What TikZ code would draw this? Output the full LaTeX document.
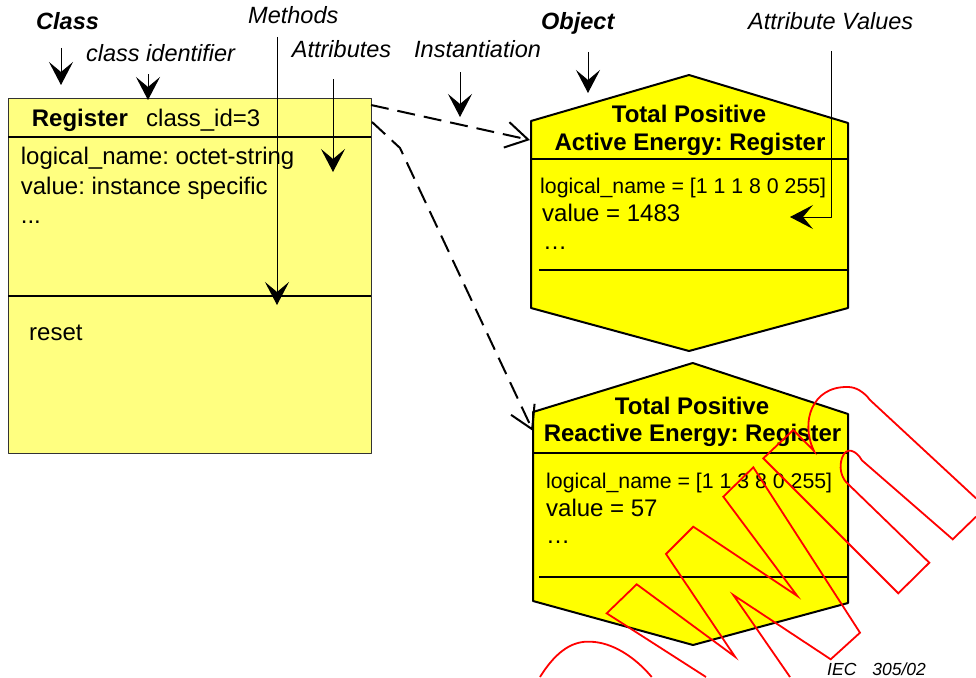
\documentclass[tikz,border=0pt]{standalone}
\usepackage{fontspec}
\setmainfont{Liberation Sans}
\usetikzlibrary{arrows.meta}
\frenchspacing

\definecolor{classyellow}{HTML}{FFFF80}
\definecolor{objyellow}{HTML}{FFFF00}
\definecolor{stampred}{HTML}{FF0000}

\tikzset{
  note/.style={anchor=base west, inner sep=0pt, font=\fontsize{23.5}{28}\selectfont\itshape},
  txt/.style={anchor=base west, inner sep=0pt, font=\fontsize{24}{29}\selectfont},
  obis/.style={anchor=base west, inner sep=0pt, font=\fontsize{21.3}{25}\selectfont},
  head/.style={anchor=base, inner sep=0pt, font=\fontsize{24}{29}\selectfont\bfseries},
  pointer/.style={line width=1pt, -{Stealth[length=23pt,width=24pt,inset=10pt]}},
  inst/.style={line width=2pt, dash pattern=on 18pt off 9pt, -{Straight Barb[length=22pt,width=26pt]}},
  stamp/.style={draw=stampred, line width=1.8pt, line join=miter},
}

\begin{document}
\begin{tikzpicture}[x=1pt,y=-1pt,line join=round]
\useasboundingbox (0,0) rectangle (976,677);

% class box
\draw[fill=classyellow, draw=black!80, line width=1pt] (8,98) rectangle (371,453);
\draw[line width=2.5pt] (8,137) -- (371,137);
\draw[line width=2.5pt] (8,296) -- (371,296);
\node[txt, font=\fontsize{24}{29}\selectfont\bfseries] (clsname) at (31.7,126) {Register};
\node[txt] (clsid) at (146,126) {class\_id=3};
\node[txt] (attr1) at (20.7,164) {logical\_name: octet-string};
\node[txt] (attr2) at (20.7,194) {value: instance specific};
\node[txt] (attr3) at (20.7,223) {...};
\node[txt] (meth1) at (29,340.7) {reset};

% objects
\draw[fill=objyellow, line width=2pt] (531,121) -- (689,75) -- (848,123) -- (848,308) -- (689,351) -- (531,308) -- cycle;
\draw[line width=2.5pt] (531,159) -- (848,159);
\draw[line width=1.5pt] (539,270) -- (848,270);
\node[head] (obj1a) at (689,122) {Total Positive};
\node[head] (obj1b) at (690,150.7) {Active Energy: Register};
\node[obis] (obj1ln) at (540,193.3) {logical\_name = [1 1 1 8 0 255]};
\node[txt] (obj1val) at (542,221.7) {value = 1483};
\node[txt] (obj1dots) at (543,249) {…};

\draw[fill=objyellow, line width=2pt] (533,412) -- (692.7,363) -- (848,414) -- (848,603) -- (693,645) -- (533,601) -- cycle;
\draw[line width=2.5pt] (533,453) -- (848,453);
\draw[line width=1.5pt] (539,577) -- (848,577);
\node[head] (obj2a) at (692,414) {Total Positive};
\node[head] (obj2b) at (692.5,441.7) {Reactive Energy: Register};
\node[obis] (obj2ln) at (546,488.3) {logical\_name = [1 1 3 8 0 255]};
\node[txt] (obj2val) at (546,516.7) {value = 57};
\node[txt] (obj2dots) at (546,543) {…};

% labels
\node[note, font=\fontsize{23.5}{28}\selectfont\bfseries\itshape] (lclass) at (36,30) {Class};
\node[note] (lclsid) at (86,62) {class identifier};
\node[note] (lmeth) at (248,23.5) {Methods};
\node[note] (lattr) at (291.7,58) {Attributes};
\node[note] (linst) at (414,58) {Instantiation};
\node[note, font=\fontsize{23.5}{28}\selectfont\bfseries\itshape] (lobj) at (541,30) {Object};
\node[note] (lval) at (748,30) {Attribute Values};

% pointers
\foreach \n/\x/\ya/\yb in {class/61/48/85, clsid/148/74/100, meth/277/37/305,
                           attr/333/79/172, inst/460/72/117, obj/588/52/93}{
  \coordinate (\n-from) at (\x,\ya);
  \coordinate (\n-to) at (\x,\yb);
  \draw[pointer] (\n-from) -- (\n-to);
}
\coordinate (val-from) at (831,51);
\coordinate (val-to) at (790,217);
\draw[pointer] (val-from) |- (val-to);

% instantiation
\coordinate (cls-a) at (371,105);
\coordinate (obj1-in) at (530,140);
\coordinate (cls-b) at (372,122);
\coordinate (bend) at (400,148);
\coordinate (obj2-in) at (533,431);
\draw[inst] (cls-a) -- (obj1-in);
\draw[inst] (cls-b) -- (bend) -- (obj2-in);

\node[anchor=base west, inner sep=0pt, font=\fontsize{17.5}{20}\selectfont\itshape] (iec) at (827,675) {IEC\hspace{16pt}305/02};

% red stamp outline
\draw[stamp] (976,516.7) -- (952.7,539.3) -- (862,460.4)
  .. controls (856,450) and (846,446) .. (842,458)
  .. controls (839,467) and (841,476) .. (846,482)
  -- (929.3,562.7) -- (898.3,593.3) -- (763.3,458.3) -- (793.3,430) -- (814,451)
  .. controls (800,422) and (812,386) .. (848,387)
  .. controls (856,387) and (864,392) .. (870,400) -- (976,498.3);
\draw[stamp] (706,677) -- (606.7,613.3) -- (636.7,584.3) -- (735,656.7) -- (666,554)
  -- (693.3,526.7) -- (797.3,596) -- (723.3,496.7) -- (753.3,467.3) -- (860,632.7)
  -- (830.7,659.3) -- (733.3,595) -- (790,677);
\draw[stamp] (540,677) .. controls (558,648) and (575,641) .. (590,641.7)
  .. controls (612,642) and (635,657) .. (651.7,677);
\end{tikzpicture}
\end{document}
